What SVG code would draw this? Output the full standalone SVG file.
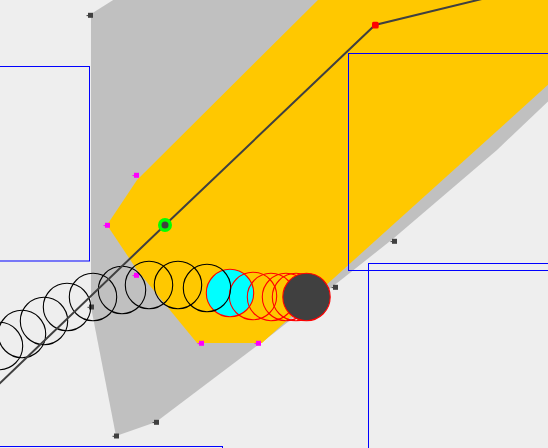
<svg xmlns="http://www.w3.org/2000/svg" width="548" height="448" viewBox="0 0 548 448">
<defs>
<style>
.bg{fill:#eeeeee}
.hull{fill:#c0c0c0}
.sweep{fill:#ffc800}
.box{fill:none;stroke:#0000ff;stroke-width:1}
.path{fill:none;stroke:#404040;stroke-width:2}
.samp{fill:none;stroke:#000000;stroke-width:1.1}
.sub{fill:none;stroke:#ff0000;stroke-width:1.1}
</style>
<g id="mk-dark"><rect x="-2.5" y="-2.5" width="5" height="5" fill="#404040"/><path d="M-4 0.3h1.5" stroke="#404040" stroke-width="1"/></g>
<g id="mk-mag"><rect x="-2.5" y="-2.5" width="5" height="5" fill="#ff00ff"/><path d="M-4 0.3h1.5" stroke="#ff00ff" stroke-width="1"/></g>
</defs>
<rect class="bg" x="0" y="0" width="548" height="448"/>
<g id="hull">
<polygon class="hull" points="91,14 129,-10 560,-10 560,90 497,150 394,238 274,333 156,422 116,436 91,307"/>
</g>
<g id="sweep">
<polygon class="sweep" points="107,225 137,180 328,-10 560,-10 560,74 262,343 197,343 137,270"/>
</g>
<g id="boxes">
<rect class="box" x="-10" y="66.5" width="99.5" height="194.5"/>
<rect class="box" x="348.5" y="53.5" width="220" height="217"/>
<rect class="box" x="368.5" y="263.5" width="200" height="200"/>
<rect class="box" x="-10" y="446.5" width="232.5" height="50"/>
</g>
<g id="hull-points">
<use href="#mk-dark" x="90.5" y="15.3"/>
<use href="#mk-dark" x="91.5" y="307"/>
<use href="#mk-dark" x="116.5" y="436"/>
<use href="#mk-dark" x="156.5" y="422.3"/>
<use href="#mk-dark" x="335.5" y="287.3"/>
<use href="#mk-dark" x="394.5" y="241.3"/>
</g>
<g id="sweep-points">
<use href="#mk-mag" x="136.5" y="175.3"/>
<use href="#mk-mag" x="107.5" y="225.3"/>
<use href="#mk-mag" x="136.5" y="275.3"/>
<use href="#mk-mag" x="201.5" y="343.3"/>
<use href="#mk-mag" x="258.5" y="343.3"/>
</g>
<g id="toi">
<circle cx="230" cy="293" r="23.7" fill="#00ffff" stroke="#ff0000" stroke-width="1.1"/>
</g>
<g id="substeps">
<circle class="sub" cx="253" cy="296" r="23.7"/>
<circle class="sub" cx="271" cy="297" r="23.7"/>
<circle class="sub" cx="286" cy="297" r="23.7"/>
<circle class="sub" cx="296" cy="297" r="23.7"/>
</g>
<g id="samples">
<circle class="samp" cx="-1" cy="346" r="23.7"/>
<circle class="samp" cx="22" cy="334" r="23.7"/>
<circle class="samp" cx="44" cy="321" r="23.7"/>
<circle class="samp" cx="67" cy="307" r="23.7"/>
<circle class="samp" cx="93" cy="297" r="23.7"/>
<circle class="samp" cx="122" cy="290" r="23.7"/>
<circle class="samp" cx="149" cy="285" r="23.7"/>
<circle class="samp" cx="178" cy="285" r="23.7"/>
<circle class="samp" cx="207" cy="288" r="23.7"/>
</g>
<g id="final">
<circle cx="306.5" cy="297" r="23.7" fill="#404040" stroke="#ff0000" stroke-width="1.1"/>
</g>
<g id="connectors">
<polyline class="path" points="-5,388 165,225 375,25 560,-20"/>
</g>
<g id="path-points">
<circle cx="165" cy="225" r="7" fill="#00ff00"/>
<circle cx="165" cy="225" r="3.5" fill="#404040"/>
<rect x="372" y="21.7" width="6.7" height="6.7" rx="1.5" fill="#ff0000"/>
</g>
</svg>
